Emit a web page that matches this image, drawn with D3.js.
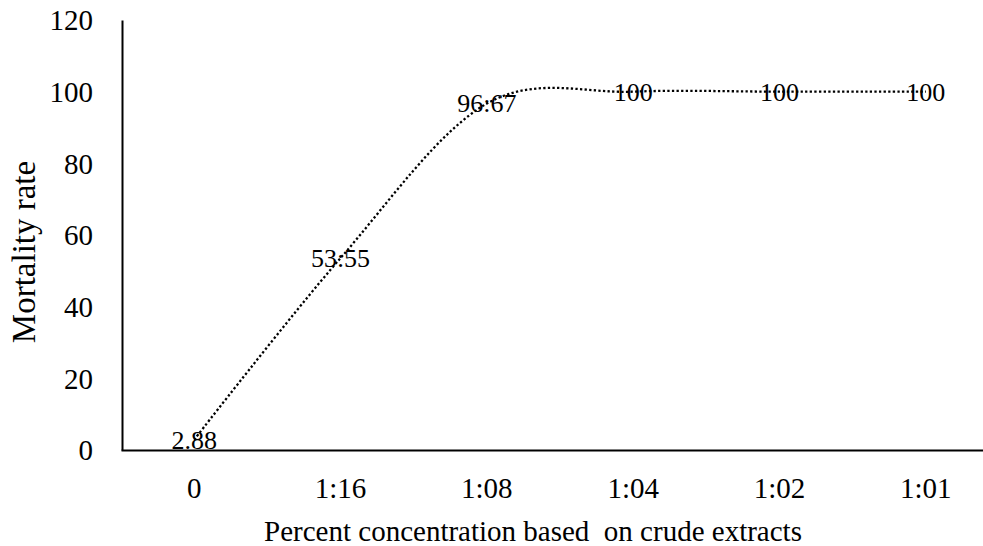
<!DOCTYPE html>
<html>
<head>
    <meta charset="utf-8">
    <script src="https://d3js.org/d3.v7.min.js"></script>
    <style>
        body { margin: 0; background: #fff; }
        svg text { font-family: 'Liberation Serif', 'Times New Roman', Times, serif !important; fill: #000; }
    </style>
</head>
<body>
<script>
    let categories = ["0", "1:16", "1:08", "1:04", "1:02", "1:01"];
    let values = [2.88, 53.55, 96.67, 100, 100, 100];
    let labels = ["2.88", "53:55", "96:67", "100", "100", "100"];
    let yTicks = [0, 20, 40, 60, 80, 100, 120];

    let width = 983, height = 546;
    let serif = "'Liberation Serif', 'Times New Roman', Times, serif";

    let svg = d3.select("body")
        .append("svg")
            .attr("width", width)
            .attr("height", height)
            .attr("font-family", serif);

    let x = d3.scaleBand()
        .domain(categories)
        .range([121, 999]);

    let y = d3.scaleLinear()
        .domain([0, 120])
        .range([450, 20]);

    let cx = d => x(d) + x.bandwidth() / 2;

    // y axis
    let yAxis = svg.append("g")
        .attr("transform", "translate(122,0)")
        .call(d3.axisLeft(y).tickValues(yTicks).tickSize(0).tickPadding(29))
        .attr("font-family", serif)
        .attr("font-size", 29);
    yAxis.select(".domain").attr("stroke", "#000").attr("stroke-width", 2);
    yAxis.selectAll("text").attr("dy", "0.34em");

    // x axis
    let xAxis = svg.append("g")
        .attr("transform", "translate(0,450)")
        .call(d3.axisBottom(x).tickSize(0).tickPadding(27))
        .attr("font-family", serif)
        .attr("font-size", 29);
    xAxis.select(".domain").attr("stroke", "#000").attr("stroke-width", 2);

    // smoothed dotted line
    let line = d3.line()
        .x((d, i) => cx(categories[i]))
        .y(d => y(d))
        .curve(d3.curveCatmullRom.alpha(0));

    svg.append("path")
        .datum(values)
        .attr("fill", "none")
        .attr("stroke", "#000")
        .attr("stroke-width", 2.3)
        .attr("stroke-dasharray", "2.3,2.3")
        .attr("d", line);

    // data labels
    svg.append("g")
        .selectAll("text")
        .data(values)
        .join("text")
            .attr("x", (d, i) => cx(categories[i]))
            .attr("y", d => y(d))
            .attr("dy", "0.34em")
            .attr("text-anchor", "middle")
            .attr("font-size", 26)
            .text((d, i) => labels[i]);

    // axis titles
    svg.append("text")
        .attr("x", 533)
        .attr("y", 541)
        .attr("text-anchor", "middle")
        .attr("xml:space", "preserve")
        .style("white-space", "pre")
        .attr("font-size", 29)
        .text("Percent concentration based  on crude extracts");

    svg.append("text")
        .attr("transform", "translate(35,252) rotate(-90)")
        .attr("text-anchor", "middle")
        .attr("font-size", 33)
        .text("Mortality rate");
</script>
</body>
</html>
